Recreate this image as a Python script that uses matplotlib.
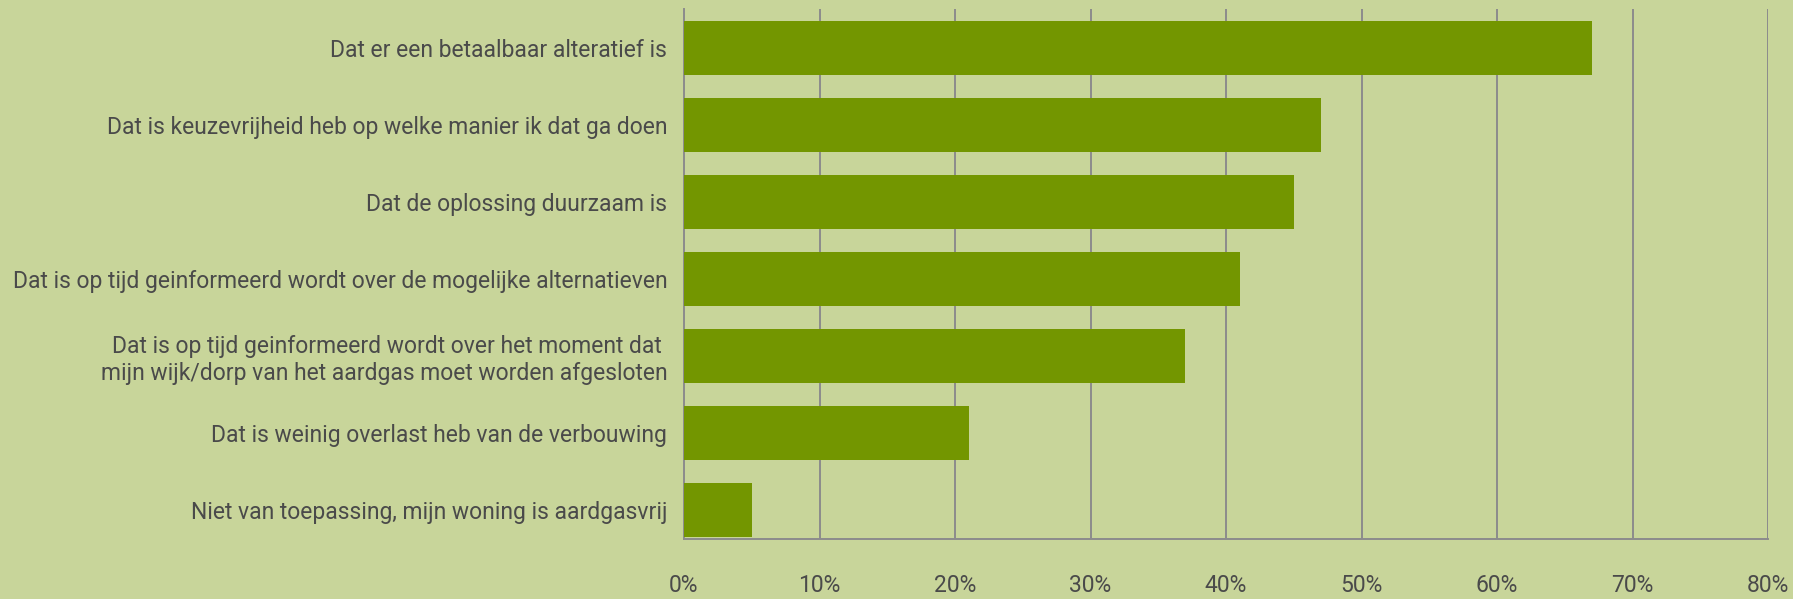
import matplotlib.pyplot as plt
from matplotlib.ticker import FuncFormatter

# Survey answers and share of respondents (%)
labels = [
    "Dat er een betaalbaar alteratief is",
    "Dat is keuzevrijheid heb op welke manier ik dat ga doen",
    "Dat de oplossing duurzaam is",
    "Dat is op tijd geinformeerd wordt over de mogelijke alternatieven",
    "Dat is op tijd geinformeerd wordt over het moment dat \nmijn wijk/dorp van het aardgas moet worden afgesloten",
    "Dat is weinig overlast heb van de verbouwing",
    "Niet van toepassing, mijn woning is aardgasvrij",
]
values = [67, 47, 45, 41, 37, 21, 5]
x_ticks = [0, 10, 20, 30, 40, 50, 60, 70, 80]

BG = "#c8d59a"
BAR = "#739600"
GRID = "#8c8c8c"
TEXT = "#4a4a4a"

plt.rcParams["font.family"] = ["Roboto", "DejaVu Sans"]

fig = plt.figure(figsize=(17.93, 5.99), dpi=100, facecolor=BG)
ax = fig.add_axes([684 / 1793, 1 - 539 / 599, (1768 - 684) / 1793, (539 - 9) / 599])
ax.set_facecolor(BG)

y = list(range(len(labels)))
ax.barh(y, values, height=0.70, color=BAR, zorder=3)

ax.set_xlim(0, 80)
ax.set_ylim(len(labels) - 1 + 0.377, -0.506)

ax.set_xticks(x_ticks)
ax.xaxis.set_major_formatter(FuncFormatter(lambda v, _: f"{v:.0f}%"))
ax.set_yticks(y)
ax.set_yticklabels(labels, ha="right", linespacing=1.2)

ax.grid(axis="x", color=GRID, linewidth=1.4, zorder=0)
ax.tick_params(axis="x", length=0, pad=25, labelsize=16.5, colors=TEXT)
ax.tick_params(axis="y", length=0, pad=12, labelsize=16.5, colors=TEXT)

for side in ["top", "right"]:
    ax.spines[side].set_visible(False)
ax.spines["left"].set_color(GRID)
ax.spines["left"].set_linewidth(1.4)
ax.spines["bottom"].set_color(GRID)
ax.spines["bottom"].set_linewidth(1.4)

fig.savefig("out.png", dpi=100, facecolor=BG)
